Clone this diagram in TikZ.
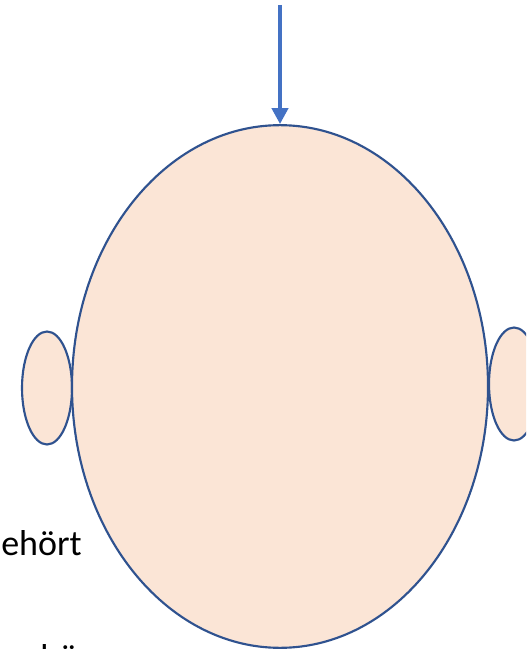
\documentclass[tikz,border=0pt]{standalone}
\usepackage{fontspec}
\setmainfont{Carlito}
\usepackage{xcolor}
\usepackage{tikz}
\usetikzlibrary{arrows.meta, shapes.geometric}

\definecolor{skin}{HTML}{FBE5D6}
\definecolor{outline}{HTML}{2F528F}
\definecolor{arrowblue}{HTML}{4472C4}

\begin{document}
\begin{tikzpicture}[
                x=0.75pt, y=-0.75pt,
                part/.style={ellipse, draw=outline, line width=1.6pt, fill=skin, inner sep=0pt},
                pointer/.style={draw=arrowblue, line width=3pt, -{Triangle[length=12pt, width=12pt]}},
                word/.style={font=\fontsize{27}{32}\selectfont, anchor=base west, inner sep=0pt}
            ]
                \useasboundingbox (0,0) rectangle (526,649);
                \clip (0,0) rectangle (526,649);

                % Ohren (hinter dem Kopf)
                \node[part, minimum width=37.5pt, minimum height=84.75pt] (earL) at (47,388) {};
                \node[part, minimum width=37.5pt, minimum height=84.75pt] (earR) at (514,384) {};

                % Kopf
                \node[part, minimum width=312pt, minimum height=392pt] (head) at (280,386.5) {};

                % Pfeil von oben
                \coordinate (top) at (280,5);
                \draw[pointer] (top) -- (head.north);

                % Texte links (abgeschnitten)
                \node[word] (heard) at (1,555) {ehört};
                \node[word] (below) at (40,669) {hö};
            \end{tikzpicture}
\end{document}
